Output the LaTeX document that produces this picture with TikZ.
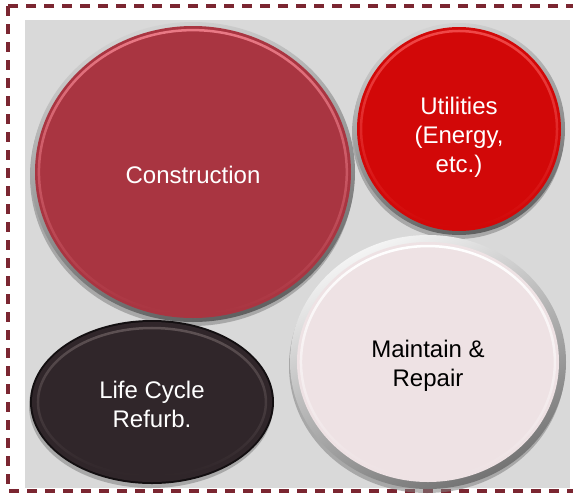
\documentclass[tikz,border=0pt]{standalone}
\usepackage{fontspec}
\setmainfont{Liberation Sans}
\usepackage{xcolor}
\usetikzlibrary{shapes.geometric,shadows,fadings}

\definecolor{framered}{HTML}{7B2631}
\definecolor{panelgray}{HTML}{D9D9D9}
\definecolor{conred}{HTML}{A93541}
\definecolor{conhi}{HTML}{EA7A86}
\definecolor{utilred}{HTML}{D20808}
\definecolor{utilhi}{HTML}{F04848}
\definecolor{mntpink}{HTML}{EEE2E4}
\definecolor{lcrbrown}{HTML}{30262A}
\definecolor{lcrhi}{HTML}{5E5254}

\begin{document}
\begin{tikzpicture}[x=1pt,y=-1pt,
  font=\fontsize{24}{29}\selectfont,
  rim/.style={ellipse,inner sep=0pt,
    drop shadow={shadow xshift=-1pt,shadow yshift=-4pt,opacity=.55}},
  face/.style={ellipse,inner sep=0pt},
  txt/.style={align=center,inner sep=0pt},
  shine/.style={line width=2.5pt,path fading=south}]
\useasboundingbox (0,0) rectangle (573,493);
\fill[panelgray] (25,20) rectangle (570,488);
\draw[framered,line width=3.2pt,dash pattern=on 10pt off 8pt] (8,6) rectangle (590,491);

% construction
\node[rim,top color=gray!35,bottom color=gray!75!black,shading angle=15,
  minimum width=324pt,minimum height=300pt] (con rim) at (193,172) {};
\node[face,fill=conred,minimum width=316pt,minimum height=292pt] (con) at (con rim) {};
\draw[shine,conhi] (con) ellipse [x radius=154pt,y radius=142pt];
\node[txt,text=white] (con txt) at ([yshift=-3pt]con) {Construction};

% utilities
\node[rim,top color=gray!35,bottom color=gray!75!black,shading angle=15,
  minimum width=212pt,minimum height=212pt] (util rim) at (459,129) {};
\node[face,fill=utilred,minimum width=204pt,minimum height=204pt] (util) at (util rim) {};
\draw[shine,utilhi] (util) ellipse [x radius=98pt,y radius=98pt];
\node[txt,text=white] (util txt) at ([yshift=-8pt]util) {Utilities\\(Energy,\\etc.)};

% maintain & repair
\node[rim,top color=gray!8,bottom color=gray!90!black,shading angle=25,
  minimum width=276pt,minimum height=254pt] (mnt rim) at (428,362) {};
\node[face,fill=mntpink,minimum width=262pt,minimum height=240pt] (mnt) at (mnt rim) {};
\draw[shine,white] (mnt) ellipse [x radius=127pt,y radius=116pt];
\node[txt] (mnt txt) at ([yshift=-4pt]mnt) {Maintain \&\\Repair};

% life cycle refurb.
\node[rim,fill=black!60!lcrbrown,minimum width=244pt,minimum height=164pt] (lcr rim) at (152,402) {};
\node[face,fill=lcrbrown,minimum width=240pt,minimum height=160pt] (lcr) at (lcr rim) {};
\draw[shine,lcrhi] (lcr) ellipse [x radius=114pt,y radius=74pt];
\node[txt,text=white] (lcr txt) at ([yshift=-2pt]lcr) {Life Cycle\\Refurb.};
\end{tikzpicture}
\end{document}
